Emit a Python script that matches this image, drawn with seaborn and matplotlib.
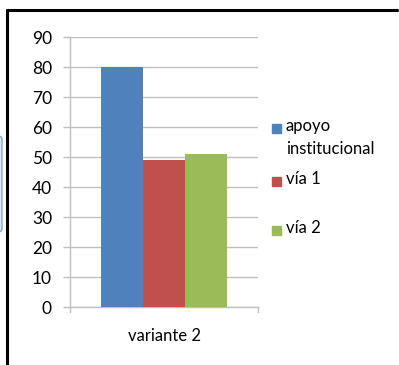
import matplotlib
matplotlib.use("Agg")
import matplotlib.pyplot as plt
from matplotlib.patches import Rectangle, FancyBboxPatch
from matplotlib.lines import Line2D
import seaborn as sns
import pandas as pd

# Chart data
categories = ["variante 2"]
series = ["apoyo\ninstitucional", "vía 1", "vía 2"]
values = [80, 49, 51]
colors = ["#4F81BD", "#C0504D", "#9BBB59"]
y_ticks = [0, 10, 20, 30, 40, 50, 60, 70, 80, 90]

df = pd.DataFrame({
    "categoria": categories * len(series),
    "serie": series,
    "valor": values,
})

sns.set_theme(style="white")
plt.rcParams["font.family"] = ["Lato", "DejaVu Sans"]

W, H = 399, 365
fig = plt.figure(figsize=(W / 100, H / 100), dpi=100)
ax = fig.add_axes([70 / W, (H - 307) / H, (258 - 70) / W, (307 - 37) / H])

sns.barplot(data=df, x="categoria", y="valor", hue="serie", palette=colors,
            width=0.665, gap=0, saturation=1, linewidth=0, ax=ax, legend=False,
            zorder=3)

ax.set_xlim(-0.5, 0.5)
ax.set_ylim(0, 90)
ax.set_yticks(y_ticks)
ax.set_yticklabels([str(v) for v in y_ticks], fontsize=12.5, color="#000000")
ax.yaxis.grid(True, color="#BFBFBF", linewidth=1, zorder=0)
ax.set_axisbelow(True)
ax.set_xlabel("")
ax.set_ylabel("")
ax.tick_params(axis="x", labelsize=12, colors="#000000", length=0, pad=15)
ax.tick_params(axis="y", left=True, length=5, width=1, color="#BFBFBF", pad=8)

for side in ("top", "right"):
    ax.spines[side].set_visible(False)
for side in ("left", "bottom"):
    ax.spines[side].set_color("#BFBFBF")
    ax.spines[side].set_linewidth(1)

# category boundary tick marks below the axis
for xb in (-0.5, 0.5):
    ax.plot([xb, xb], [0, -1.7], color="#BFBFBF", lw=1, clip_on=False)

# legend, drawn with the series colours
leg_items = [("apoyo\ninstitucional", 128), ("vía 1", 181), ("vía 2", 230)]
for (label, yc), col in zip(leg_items, colors):
    fig.add_artist(Rectangle((272 / W, (H - yc - 4.5) / H), 9 / W, 9 / H,
                             transform=fig.transFigure, color=col))
    fig.text(286 / W, (H - yc + 10) / H, label, fontsize=12, va="top",
             ha="left", linespacing=1.5, color="#000000")

# surrounding frame
fig.add_artist(Line2D([7 / W, 397 / W], [(H - 10) / H, (H - 10) / H],
                      transform=fig.transFigure, color="black", lw=2.2))
fig.add_artist(Line2D([7 / W, 7 / W], [0, (H - 10) / H],
                      transform=fig.transFigure, color="black", lw=2.2))
fig.add_artist(FancyBboxPatch((-20 / W, (H - 232) / H), 22 / W, 96 / H,
                              boxstyle="round,pad=0,rounding_size=0.01",
                              transform=fig.transFigure, facecolor="#DCE9F7",
                              edgecolor="#7FA7D9", lw=1))

fig.savefig("out.png", dpi=100)
